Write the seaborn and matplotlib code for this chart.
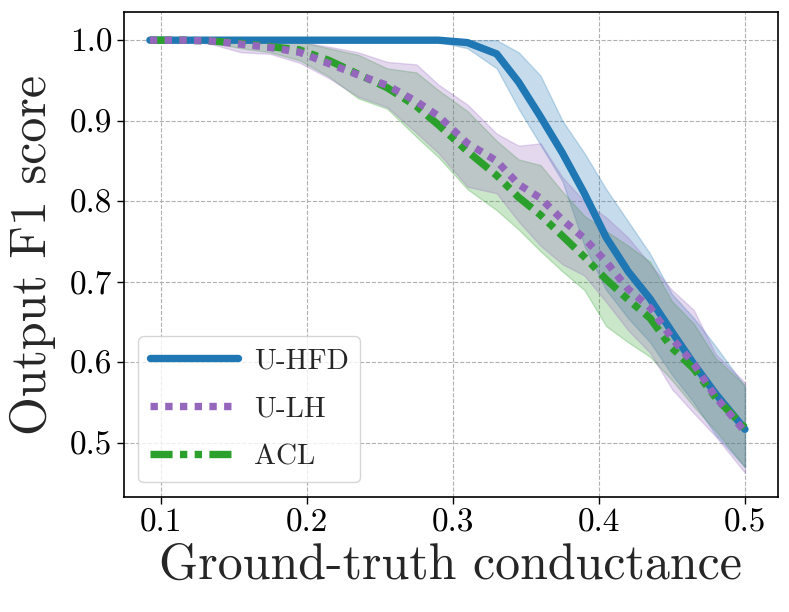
import numpy as np
import pandas as pd
import matplotlib
matplotlib.use("Agg")
import matplotlib.pyplot as plt
import seaborn as sns

# --- data ---
conductance = [0.0925, 0.115, 0.135, 0.155, 0.175, 0.195, 0.215, 0.235, 0.255, 0.275, 0.29, 0.31,
               0.33, 0.345, 0.36, 0.375, 0.39, 0.405, 0.42, 0.435, 0.45, 0.465, 0.48, 0.5]

hfd_mean = [1.0, 1.0, 1.0, 1.0, 1.0, 1.0, 1.0, 1.0, 1.0, 1.0, 1.0, 0.997,
            0.983, 0.948, 0.905, 0.86, 0.81, 0.755, 0.713, 0.679, 0.638, 0.598, 0.561, 0.517]
hfd_upper = [1.0, 1.0, 1.0, 1.0, 1.0, 1.0, 1.0, 1.0, 1.0, 1.0, 1.0, 1.0,
             1.0, 0.985, 0.956, 0.90, 0.86, 0.815, 0.775, 0.735, 0.685, 0.655, 0.62, 0.57]
hfd_lower = [1.0, 1.0, 1.0, 1.0, 1.0, 1.0, 1.0, 1.0, 1.0, 1.0, 0.998, 0.99,
             0.965, 0.915, 0.87, 0.825, 0.745, 0.69, 0.655, 0.625, 0.585, 0.55, 0.51, 0.47]

lh_mean = [1.0, 1.0, 0.999, 0.995, 0.991, 0.985, 0.971, 0.957, 0.944, 0.924, 0.906, 0.872,
           0.85, 0.821, 0.804, 0.777, 0.754, 0.725, 0.691, 0.668, 0.63, 0.598, 0.557, 0.514]
lh_upper = [1.0, 1.0, 1.0, 1.0, 1.0, 0.998, 0.992, 0.985, 0.973, 0.97, 0.945, 0.92,
            0.884, 0.869, 0.872, 0.83, 0.80, 0.78, 0.755, 0.722, 0.69, 0.665, 0.61, 0.575]
lh_lower = [1.0, 1.0, 0.995, 0.985, 0.983, 0.972, 0.953, 0.93, 0.917, 0.885, 0.86, 0.818,
            0.81, 0.775, 0.745, 0.722, 0.708, 0.675, 0.64, 0.612, 0.567, 0.537, 0.508, 0.463]

acl_mean = [1.0, 1.0, 0.999, 0.996, 0.992, 0.988, 0.975, 0.958, 0.941, 0.918, 0.895, 0.862,
            0.832, 0.805, 0.783, 0.757, 0.731, 0.703, 0.678, 0.655, 0.618, 0.592, 0.556, 0.519]
acl_upper = [1.0, 1.0, 1.0, 1.0, 1.0, 0.998, 0.99, 0.982, 0.965, 0.96, 0.938, 0.912,
             0.875, 0.852, 0.845, 0.812, 0.782, 0.763, 0.745, 0.725, 0.676, 0.648, 0.605, 0.572]
acl_lower = [1.0, 1.0, 0.997, 0.99, 0.985, 0.975, 0.955, 0.928, 0.915, 0.88, 0.855, 0.815,
             0.789, 0.765, 0.738, 0.713, 0.69, 0.645, 0.625, 0.607, 0.578, 0.545, 0.515, 0.47]

# --- style ---
sns.set_theme(style="ticks")
plt.rcParams.update({
    "font.family": "serif",
    "font.serif": ["cmr10"],
    "mathtext.fontset": "cm",
    "axes.formatter.use_mathtext": True,
    "axes.unicode_minus": False,
    "axes.edgecolor": "black",
    "axes.linewidth": 1.2,
    "xtick.color": "black",
    "ytick.color": "black",
})

fig = plt.figure(figsize=(7.89, 6.12), dpi=100)
ax = fig.add_axes([0.157, 0.188, 0.829, 0.792])

series = [
    ("U-HFD", hfd_mean, hfd_lower, hfd_upper, "#1f77b4", (None, None)),
    ("ACL", acl_mean, acl_lower, acl_upper, "#2ca02c", (3, 1, 1, 1, 1, 1)),
    ("U-LH", lh_mean, lh_lower, lh_upper, "#9467bd", (1, 1)),
]

handles = {}
for name, mean, lo, hi, color, dash in series:
    df = pd.DataFrame({"x": conductance, "y": mean})
    sns.lineplot(data=df, x="x", y="y", ax=ax, color=color, linewidth=5.3, label=name)
    line = ax.lines[-1]
    if dash[0] is not None:
        line.set_dashes(dash)
    line.set_dash_capstyle("butt")
    ax.fill_between(conductance, lo, hi, color=color, alpha=0.25)
    handles[name] = line

ax.set_xlim(0.0747, 0.5226)
ax.set_ylim(0.433, 1.0347)
ax.set_xticks([0.1, 0.2, 0.3, 0.4, 0.5])
ax.set_yticks([0.5, 0.6, 0.7, 0.8, 0.9, 1.0])
ax.set_xticklabels(["0.1", "0.2", "0.3", "0.4", "0.5"])
ax.set_yticklabels(["0.5", "0.6", "0.7", "0.8", "0.9", "1.0"])
ax.tick_params(labelsize=24, length=5, width=1)
ax.grid(True, linestyle="--", color="#b0b0b0", linewidth=0.8)
ax.set_axisbelow(True)

ax.set_xlabel("Ground-truth conductance", fontsize=36, labelpad=4)
ax.set_ylabel("Output F1 score", fontsize=36, labelpad=10)

order = ["U-HFD", "U-LH", "ACL"]
ax.legend([handles[n] for n in order], order, loc="lower left", fontsize=21,
          handlelength=3.0, handletextpad=0.55, labelspacing=0.75,
          framealpha=0.8, fancybox=True)

fig.savefig("out.png", dpi=100)
